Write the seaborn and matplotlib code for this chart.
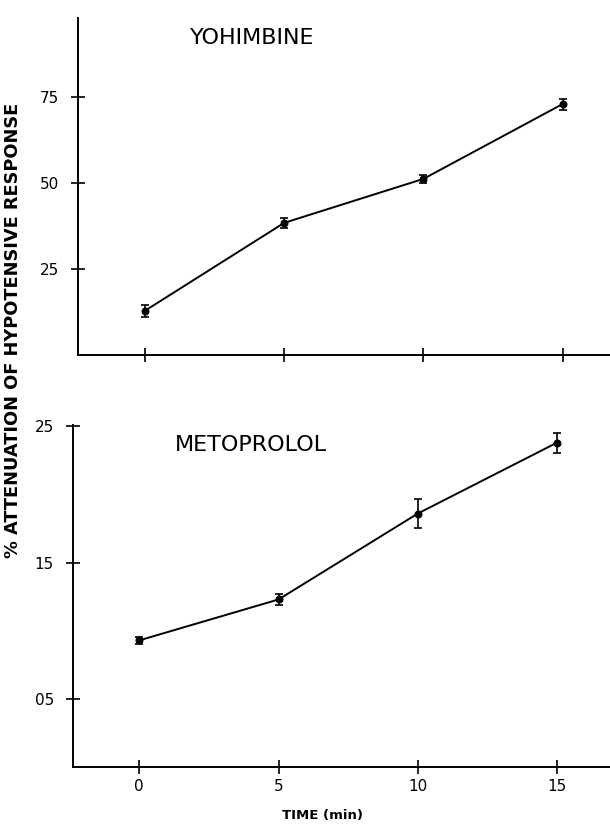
import numpy as np
import pandas as pd
import matplotlib
matplotlib.use("Agg")
import matplotlib.pyplot as plt
import seaborn as sns

# dados
time_min = [0, 5, 10, 15]
yohimbine = [12.8, 38.4, 51.2, 73.0]
yohimbine_sem = [1.7, 1.5, 1.2, 1.6]
metoprolol = [0.93, 1.23, 1.86, 2.38]
metoprolol_sem = [0.025, 0.043, 0.107, 0.073]

yoh_ticks = [25, 50, 75]
yoh_ticklabels = ["25", "50", "75"]
met_ticks = [0.5, 1.5, 2.5]
met_ticklabels = ["05", "15", "25"]
x_ticklabels = ["0", "5", "10", "15"]

sns.set_style("ticks")
plt.rcParams['font.family'] = ['DejaVu Sans']
plt.rcParams['text.color'] = 'black'
plt.rcParams['xtick.color'] = 'black'
plt.rcParams['ytick.color'] = 'black'

fig = plt.figure(figsize=(6.1, 8.25), dpi=100)
ax1 = fig.add_axes([0.128, 0.570, 0.872, 0.408])
ax2 = fig.add_axes([0.120, 0.070, 0.880, 0.415])


def painel(ax, valores, erros, titulo, yticks, ylabels, ylim, xlim, tx):
    df = pd.DataFrame({"t": time_min, "v": valores})
    sns.lineplot(data=df, x="t", y="v", ax=ax, color="black", linewidth=1.4,
                 marker="o", markersize=5, markeredgecolor="black")
    ax.errorbar(time_min, valores, yerr=erros, fmt="none", ecolor="black",
                elinewidth=1.2, capsize=3, capthick=1.2)
    ax.set_xlim(*xlim)
    ax.set_ylim(*ylim)
    ax.set_yticks(yticks)
    ax.set_yticklabels(ylabels, fontsize=11)
    ax.set_xticks(time_min)
    ax.tick_params(direction="inout", length=10, width=1.2, color="black",
                   labelcolor="black")
    ax.tick_params(axis="y", pad=9)
    sns.despine(ax=ax)
    for s in ["left", "bottom"]:
        ax.spines[s].set_linewidth(1.4)
        ax.spines[s].set_color("black")
    ax.set_xlabel("")
    ax.set_ylabel("")
    ax.text(tx, 0.94, titulo, transform=ax.transAxes, fontsize=16,
            ha="left", va="center", color="black")


painel(ax1, yohimbine, yohimbine_sem, "YOHIMBINE", yoh_ticks, yoh_ticklabels,
       (0, 98), (-2.4, 16.7), 0.21)
ax1.set_xticklabels([])
painel(ax2, metoprolol, metoprolol_sem, "METOPROLOL", met_ticks, met_ticklabels,
       (0, 2.51), (-2.37, 16.9), 0.19)
ax2.set_xticklabels(x_ticklabels, fontsize=11)

fig.text(0.528, 0.012, "TIME (min)", fontsize=9.5, ha="center", va="center",
         fontweight="bold")
fig.text(0.022, 0.6, "% ATTENUATION OF HYPOTENSIVE RESPONSE", rotation=90,
         fontsize=12.8, ha="center", va="center", fontweight="bold")

plt.savefig("out.png", dpi=100)
